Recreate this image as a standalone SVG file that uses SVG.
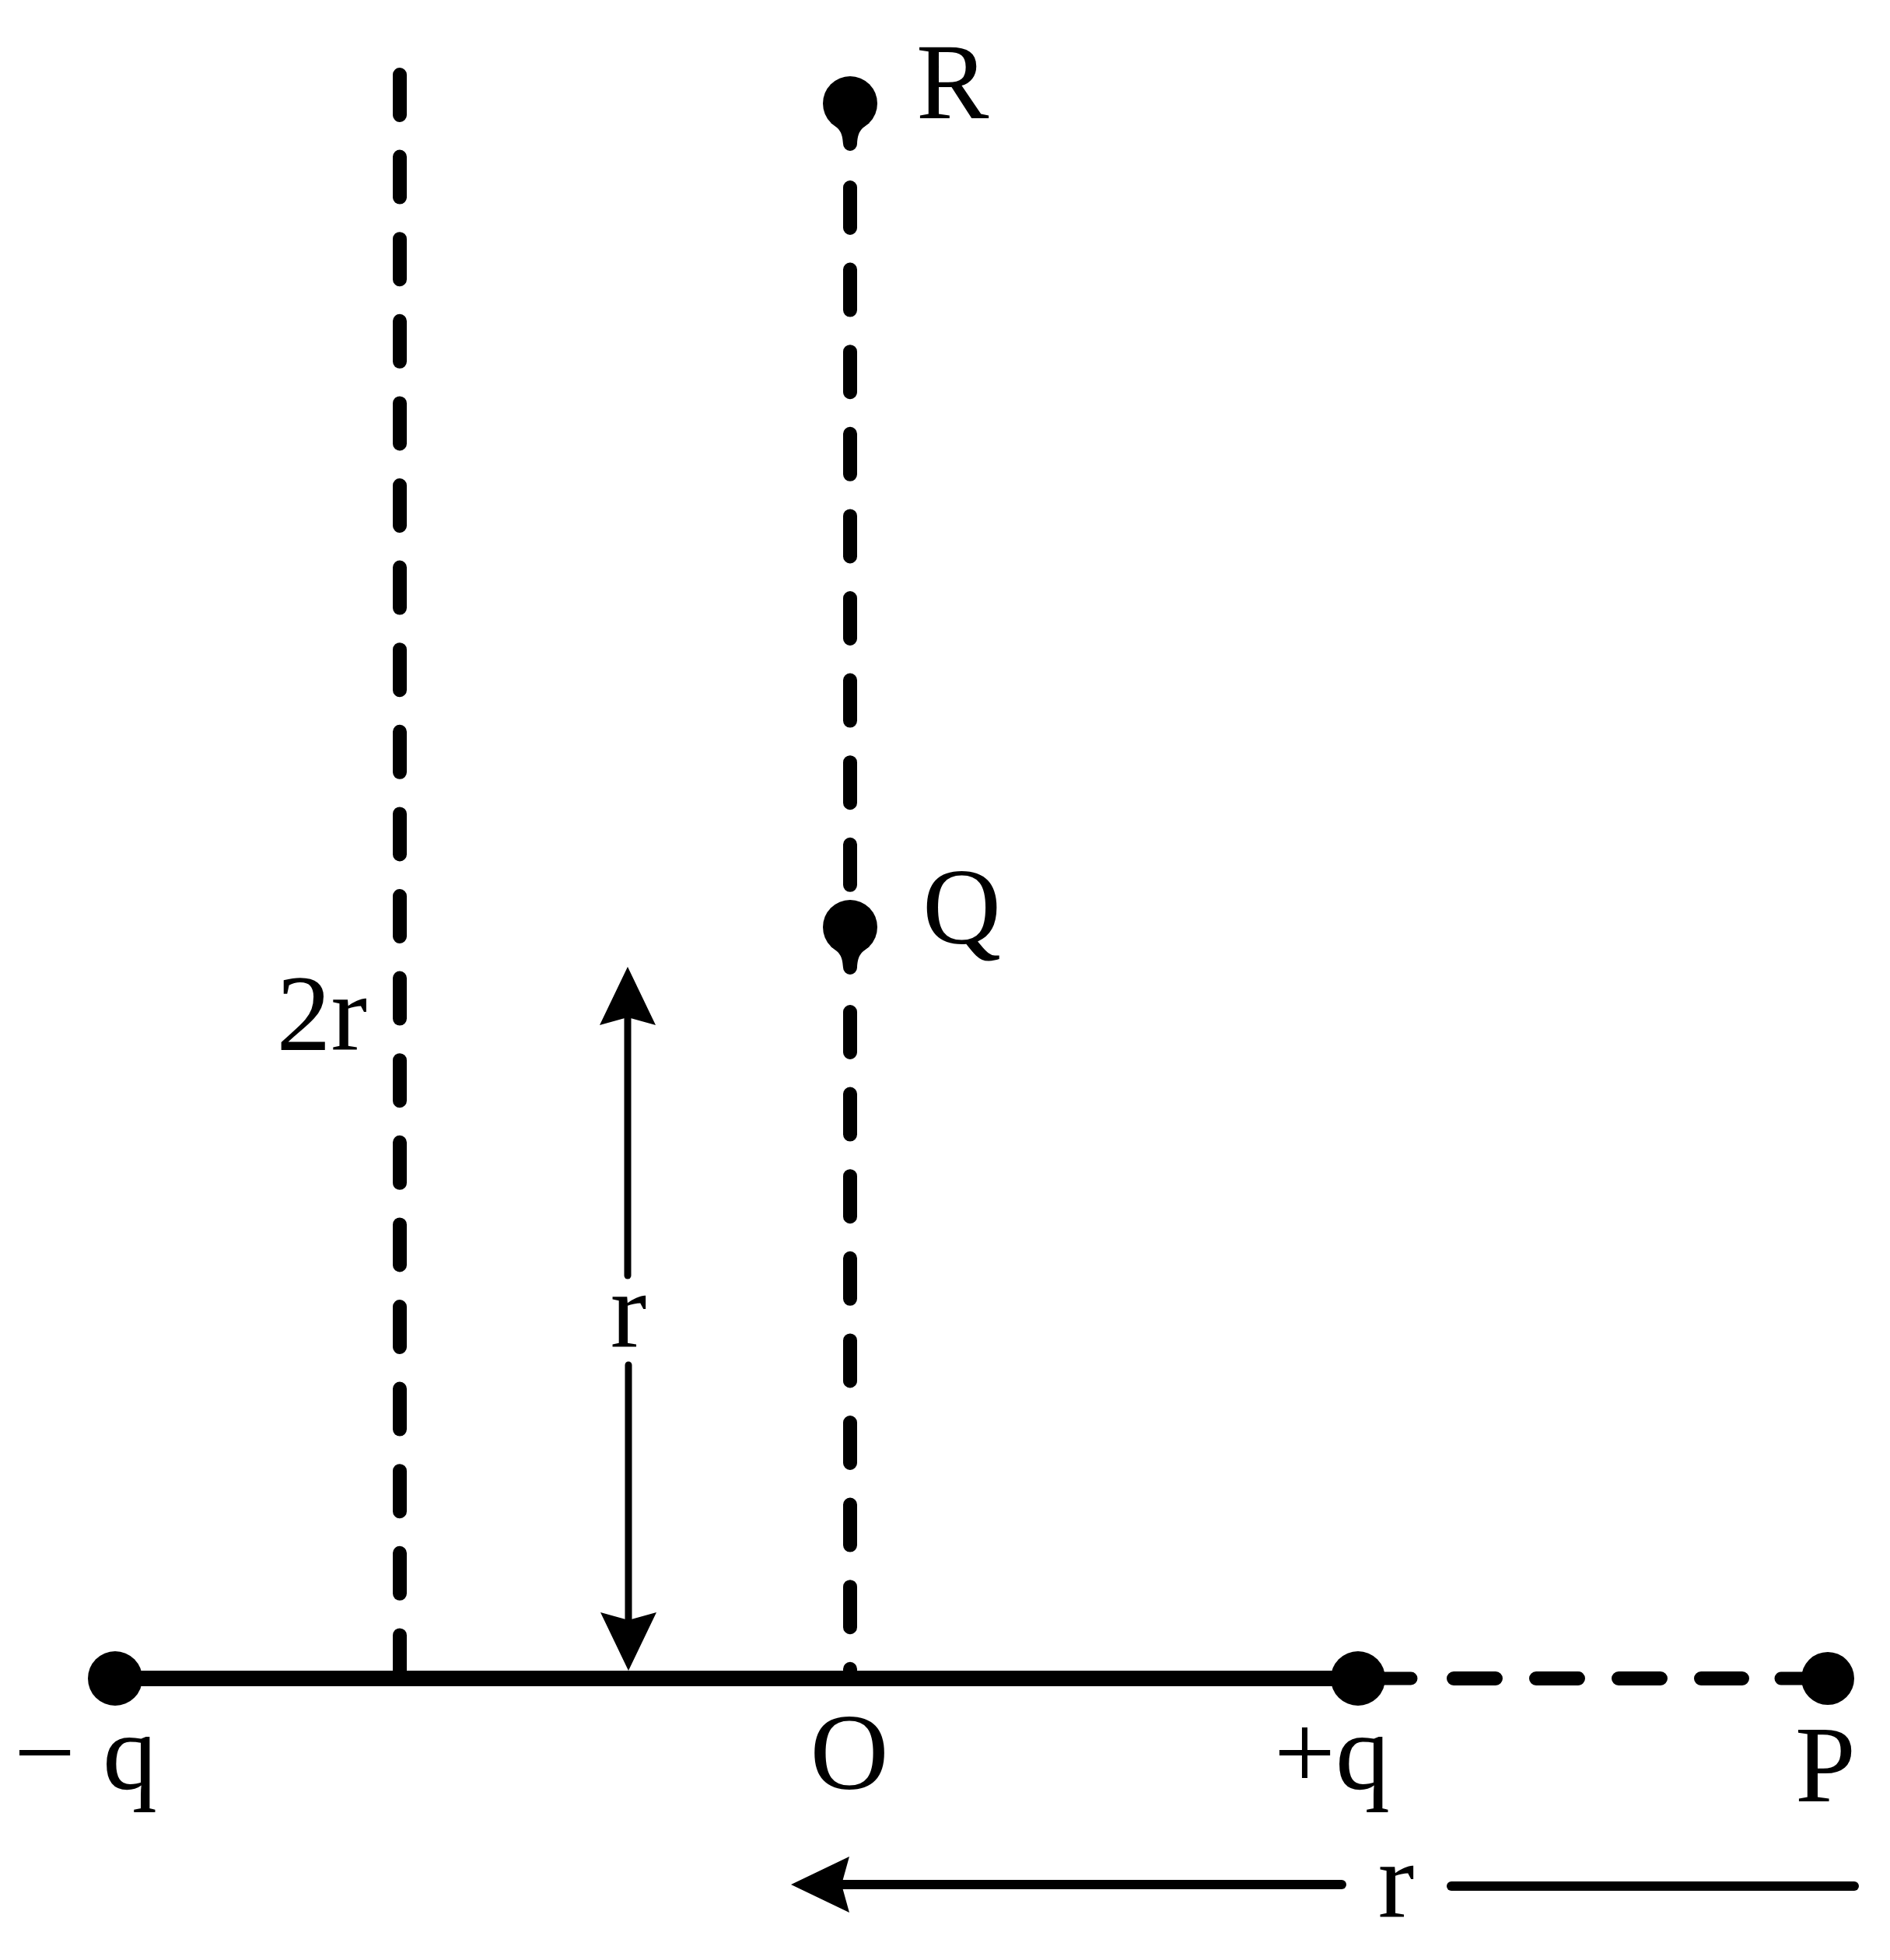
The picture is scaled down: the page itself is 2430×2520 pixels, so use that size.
<svg xmlns="http://www.w3.org/2000/svg" width="2430" height="2520" viewBox="0 0 2430 2520">
  <style>
    .lbl { font-family: "Liberation Serif", "Times New Roman", serif; font-size: 140px; fill: #000; }
    .dash { fill: none; stroke: #000; stroke-width: 18; stroke-linecap: round; stroke-dasharray: 52 53.6; }
    .solid { fill: none; stroke: #000; stroke-linecap: round; }
    .dot { fill: #000; }
  </style>
  <defs>
    <marker id="arrow" viewBox="0 0 75 72" refX="10" refY="36" markerWidth="75" markerHeight="72" markerUnits="userSpaceOnUse" orient="auto">
      <path d="M0,0 L75,36 L0,72 L10,36 Z" fill="#000"/>
    </marker>
    <g id="dropDown">
      <circle cx="0" cy="0" r="35"/>
      <path d="M-25 25 C-13 33 -10 37 -9 52 A9 9 0 0 0 9 52 C10 37 13 33 25 25 Z"/>
    </g>
  </defs>
  <rect x="0" y="0" width="2430" height="2520" fill="#fff"/>

  <g id="connectors">
    <line class="solid" x1="148" y1="2158" x2="1746" y2="2158" stroke-width="20" stroke-linecap="butt"/>
    <path class="dash" d="M514 96 V2158"/>
    <path class="dash" d="M1093 241 V1140"/>
    <path class="dash" d="M1093 1301 V2150"/>
    <path class="dash" d="M1869 2158 H2240" stroke-width="17" style="stroke-dasharray:54 52"/>
    <path class="solid" d="M807 1640 V1308" stroke-width="9" marker-end="url(#arrow)"/>
    <path class="solid" d="M808 1755 V2083" stroke-width="9" marker-end="url(#arrow)"/>
    <path class="solid" d="M1725 2423 H1082" stroke-width="12" marker-end="url(#arrow)"/>
    <path class="solid" d="M1866 2425 H2384" stroke-width="12"/>
  </g>

  <g id="node-minus-q" class="dot">
    <circle cx="148" cy="2158" r="35"/>
    <text class="lbl" x="18" y="2300">− q</text>
  </g>

  <g id="node-plus-q" class="dot">
    <circle cx="1746" cy="2158" r="35"/>
    <line x1="1746" y1="2158" x2="1814" y2="2158" stroke="#000" stroke-width="17" stroke-linecap="round"/>
    <text class="lbl" x="1638" y="2300">+q</text>
  </g>

  <g id="node-P" class="dot">
    <circle cx="2350" cy="2158" r="34"/>
    <line x1="2290" y1="2158" x2="2350" y2="2158" stroke="#000" stroke-width="17" stroke-linecap="round"/>
    <text class="lbl" x="2347" y="2316" text-anchor="middle">P</text>
  </g>

  <g id="node-O">
    <text class="lbl" x="1092" y="2300" text-anchor="middle">O</text>
  </g>

  <g id="node-Q" class="dot">
    <use href="#dropDown" x="1093" y="1192"/>
    <text class="lbl" x="1186" y="1213">Q</text>
  </g>

  <g id="node-R" class="dot">
    <use href="#dropDown" x="1093" y="133"/>
    <text class="lbl" x="1178" y="152">R</text>
  </g>

  <g id="dim-labels">
    <text class="lbl" x="472" y="1350" text-anchor="end">2r</text>
    <text class="lbl" x="808" y="1732" text-anchor="middle">r</text>
    <text class="lbl" x="1795" y="2465" text-anchor="middle">r</text>
  </g>
</svg>
